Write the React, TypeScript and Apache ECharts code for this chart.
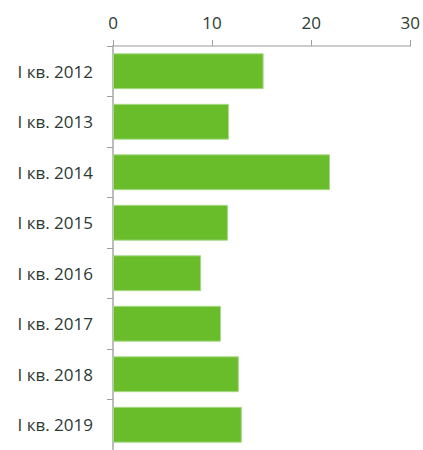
import React, { useEffect, useRef } from "react";
import * as echarts from "echarts";

const categories = ["I кв. 2012", "I кв. 2013", "I кв. 2014", "I кв. 2015", "I кв. 2016", "I кв. 2017", "I кв. 2018", "I кв. 2019"];
const values = [15.2, 11.7, 21.9, 11.6, 8.9, 10.9, 12.7, 13.0];
const xTicks = [0, 10, 20, 30];

export default function App() {
  const ref = useRef<HTMLDivElement>(null);
  useEffect(() => {
    if (!ref.current) return;
    const chart = echarts.init(ref.current, null, { renderer: "svg" });
    const textColor = "#2b3a33";
    chart.setOption({
      animation: false,
      grid: { left: 113, right: 10, top: 46, height: 408, containLabel: false },
      xAxis: {
        type: "value",
        position: "top",
        min: xTicks[0],
        max: xTicks[xTicks.length - 1],
        interval: 10,
        axisLine: { show: true, lineStyle: { color: "#bdbdbd", width: 1.5 } },
        axisTick: { show: true, length: 6, lineStyle: { color: "#9e9e9e" } },
        axisLabel: { color: textColor, fontSize: 17, fontFamily: "Open Sans", margin: 15 },
        splitLine: { show: false },
      },
      yAxis: {
        type: "category",
        inverse: true,
        data: categories,
        axisLine: { show: true, lineStyle: { color: "#bdbdbd", width: 2 } },
        axisTick: { show: true, length: 6, lineStyle: { color: "#9e9e9e" } },
        axisLabel: { color: textColor, fontSize: 17, fontFamily: "Open Sans", margin: 20 },
      },
      series: [
        {
          type: "bar",
          data: values,
          barCategoryGap: "29%",
          itemStyle: { color: "#6abd2a", borderColor: "#a8d98a", borderWidth: 1 },
        },
      ],
    });
    return () => chart.dispose();
  }, []);
  return <div ref={ref} style={{ position: "absolute", left: 0, top: 0, width: 423, height: 450 }} />;
}
